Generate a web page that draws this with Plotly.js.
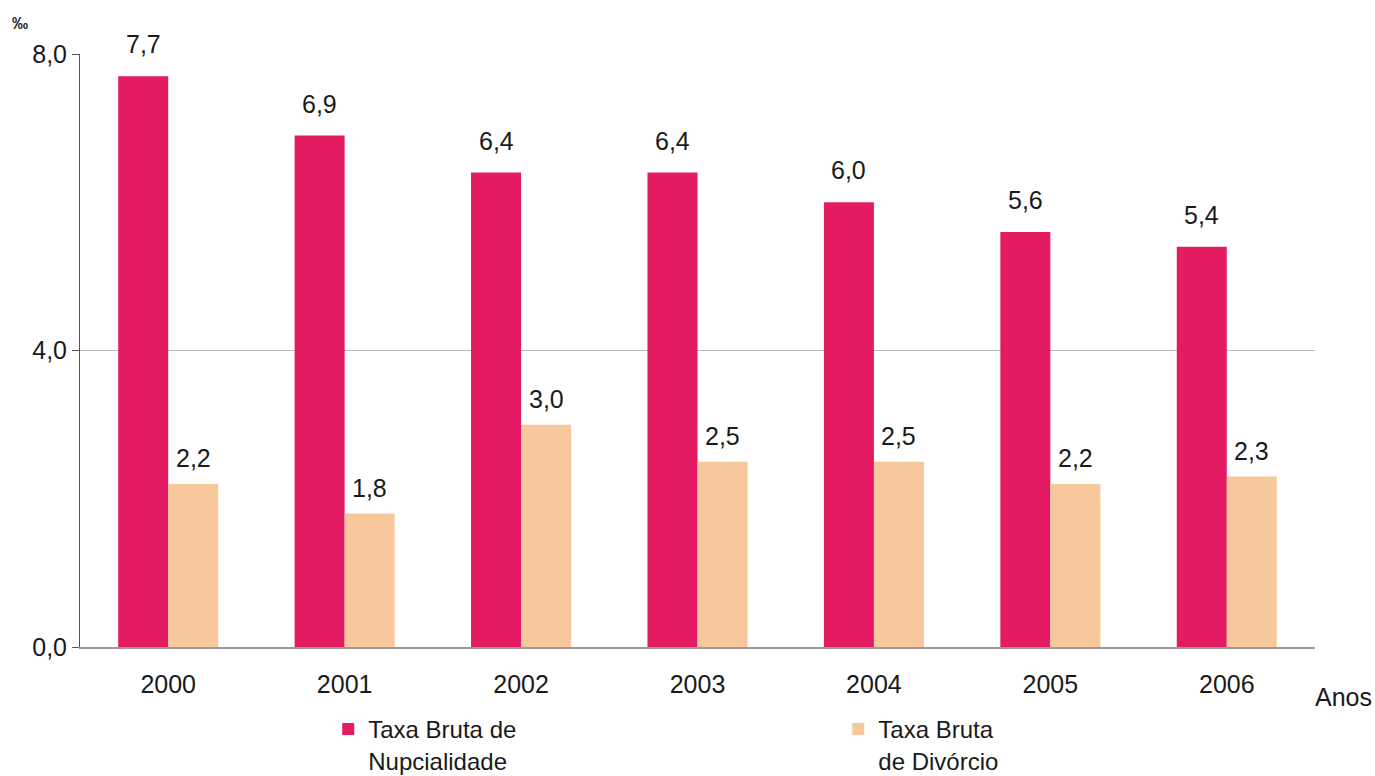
<!DOCTYPE html>
<html>
<head>
<meta charset="utf-8">
<script src="https://cdn.plot.ly/plotly-3.0.1.min.js"></script>
<style>html,body{margin:0;padding:0;background:#fff}#chart{width:1375px;height:776px}</style>
</head>
<body>
<div id="chart"></div>
<script>
const anos = ['2000','2001','2002','2003','2004','2005','2006'];
const nupcialidade = [7.7, 6.9, 6.4, 6.4, 6.0, 5.6, 5.4];
const divorcio = [2.2, 1.8, 3.0, 2.5, 2.5, 2.2, 2.3];
const yTicks = [0, 4, 8];
const yTickLabels = ['0,0', '4,0', '8,0'];
const nomeNup = 'Taxa Bruta de<br>Nupcialidade';
const nomeDiv = 'Taxa Bruta<br>de Divórcio';

const PINK = '#E31B62';
const PEACH = '#F7C89B';
const FONT = 'Liberation Sans, Arial, sans-serif';
const TXT = '#1a1a1a';

const fmt = v => v.toFixed(1).replace('.', ',');

const traces = [
  {type:'bar', x:anos, y:nupcialidade, name:nomeNup, marker:{color:PINK}, legend:'legend', hoverinfo:'none'},
  {type:'bar', x:anos, y:divorcio, name:nomeDiv, marker:{color:PEACH}, legend:'legend2', hoverinfo:'none'}
];

const annotations = [];
anos.forEach((a, i) => {
  annotations.push({x:i, y:nupcialidade[i], xref:'x', yref:'y', text:fmt(nupcialidade[i]), showarrow:false,
    xshift:-25, yshift:16, yanchor:'bottom', font:{family:FONT, size:25, color:TXT}});
  annotations.push({x:i, y:divorcio[i], xref:'x', yref:'y', text:fmt(divorcio[i]), showarrow:false,
    xshift:25, yshift:10, yanchor:'bottom', font:{family:FONT, size:25, color:TXT}});
});
annotations.push({xref:'paper', yref:'paper', x:1.0, y:-0.084, xanchor:'left', yanchor:'middle', xshift:-2,
  text:'Anos', showarrow:false, font:{family:FONT, size:25, color:TXT}});
annotations.push({xref:'paper', yref:'paper', x:-0.0486, y:1.052, xanchor:'center', yanchor:'middle',
  text:'<b>‰</b>', showarrow:false, font:{family:FONT, size:16, color:TXT}});

const layout = {
  width:1375, height:776,
  margin:{l:80, r:60, t:54, b:129, autoexpand:false},
  paper_bgcolor:'#fff', plot_bgcolor:'#fff',
  font:{family:FONT, size:25, color:TXT},
  barmode:'group', bargap:0.433, bargroupgap:0,
  xaxis:{type:'category', range:[-0.5, 6.5], showgrid:false, showline:true, linecolor:'#999', linewidth:1.5,
    ticks:'', ticklabelstandoff:14, tickfont:{family:FONT, size:25, color:TXT}, fixedrange:true},
  yaxis:{range:[0,8], tickvals:yTicks, ticktext:yTickLabels, showgrid:true, gridcolor:'#bbbbbb', gridwidth:1.5,
    showline:true, linecolor:'#555', linewidth:1, ticks:'outside', ticklen:7, tickcolor:'#555',
    zeroline:false, tickfont:{family:FONT, size:25, color:TXT}, fixedrange:true},
  legend:{x:0.201, y:-0.101, xanchor:'left', yanchor:'top', orientation:'h', valign:'top',
    font:{family:FONT, size:24, color:TXT}, bgcolor:'rgba(0,0,0,0)'},
  legend2:{x:0.614, y:-0.101, xanchor:'left', yanchor:'top', orientation:'h', valign:'top',
    font:{family:FONT, size:24, color:TXT}, bgcolor:'rgba(0,0,0,0)'},
  showlegend:true,
  annotations:annotations
};

Plotly.newPlot('chart', traces, layout, {displayModeBar:false, staticPlot:true});
</script>
</body>
</html>
